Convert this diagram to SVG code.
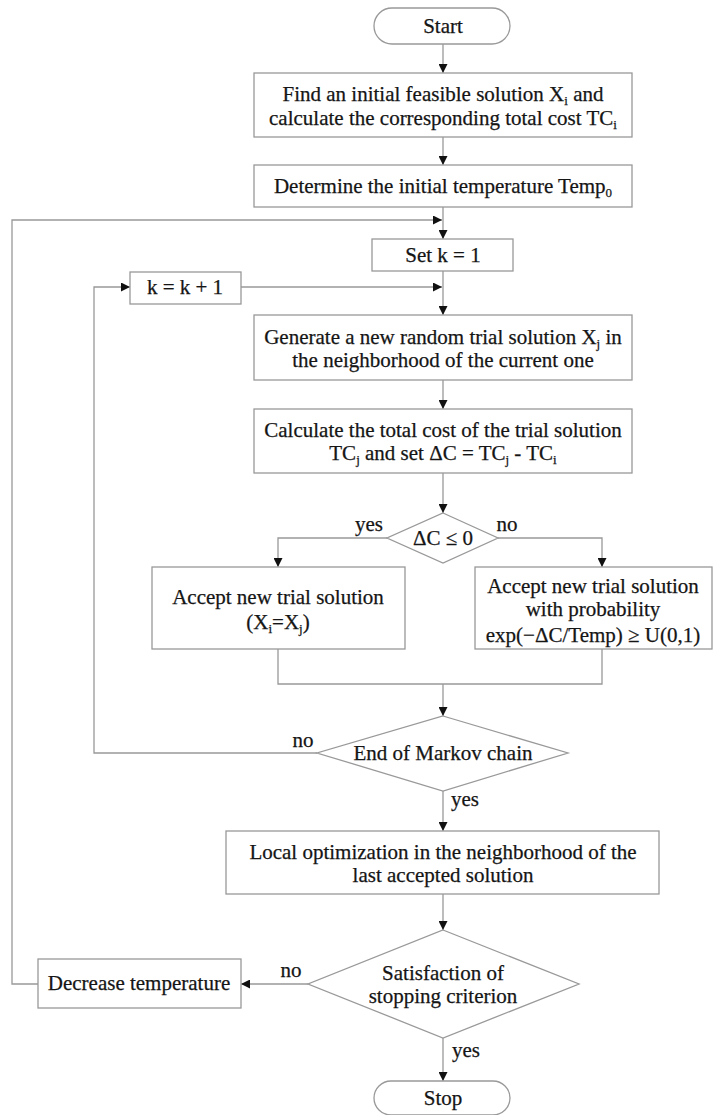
<svg xmlns="http://www.w3.org/2000/svg" width="715" height="1115" viewBox="0 0 715 1115">
  <defs>
    <marker id="arrow" viewBox="0 0 10 10" refX="10" refY="5" markerWidth="9" markerHeight="9" markerUnits="userSpaceOnUse" orient="auto">
      <path d="M0,0 L10,5 L0,10 Z" fill="#111"/>
    </marker>
    <style>
      .box { fill: #fff; stroke: #999; stroke-width: 1.3; }
      .ln { fill: none; stroke: #999; stroke-width: 1.3; }
      .arr { fill: none; stroke: #999; stroke-width: 1.3; marker-end: url(#arrow); }
      text { font-family: "Liberation Serif", "Times New Roman", serif; font-size: 21px; fill: #151515; stroke: #151515; stroke-width: 0.25; text-anchor: middle; }
      .sub { font-size: 13px; }
    </style>
  </defs>

  <!-- connectors -->
  <g id="connectors">
    <line class="arr" x1="443" y1="44" x2="443" y2="73"/>
    <line class="arr" x1="443" y1="137" x2="443" y2="165"/>
    <line class="arr" x1="443" y1="207" x2="443" y2="239"/>
    <line class="arr" x1="443" y1="271" x2="443" y2="315"/>
    <line class="arr" x1="241" y1="287" x2="442" y2="287"/>
    <line class="arr" x1="443" y1="380" x2="443" y2="409"/>
    <line class="arr" x1="443" y1="473" x2="443" y2="513"/>
    <polyline class="arr" points="387,538 278,538 278,567"/>
    <polyline class="arr" points="498,538 602,538 602,567"/>
    <polyline class="ln" points="278,649 278,684 602,684 602,649"/>
    <line class="arr" x1="443" y1="684" x2="443" y2="716"/>
    <polyline class="arr" points="317,753 94,753 94,287 130,287"/>
    <line class="arr" x1="443" y1="791" x2="443" y2="831"/>
    <line class="arr" x1="443" y1="894" x2="443" y2="930"/>
    <line class="arr" x1="308" y1="984" x2="241" y2="984"/>
    <polyline class="arr" points="38,984 12,984 12,220 442,220"/>
    <line class="arr" x1="443" y1="1038" x2="443" y2="1081"/>
  </g>

  <!-- connector labels -->
  <g id="labels">
    <text x="369" y="531">yes</text>
    <text x="507" y="531">no</text>
    <text x="303" y="747">no</text>
    <text x="465" y="806">yes</text>
    <text x="291" y="977">no</text>
    <text x="466" y="1057">yes</text>
  </g>

  <g id="start">
    <rect class="box" x="374" y="8" width="136" height="36" rx="18"/>
    <text x="443" y="33">Start</text>
  </g>

  <g id="init-solution">
    <rect class="box" x="254" y="73" width="378" height="64"/>
    <text x="443" y="101">Find an initial feasible solution X<tspan class="sub" dy="4">i</tspan><tspan dy="-4"> and</tspan></text>
    <text x="443" y="125">calculate the corresponding total cost TC<tspan class="sub" dy="4">i</tspan></text>
  </g>

  <g id="init-temp">
    <rect class="box" x="254" y="165" width="378" height="42"/>
    <text x="443" y="193">Determine the initial temperature Temp<tspan class="sub" dy="4">0</tspan></text>
  </g>

  <g id="set-k">
    <rect class="box" x="372" y="239" width="141" height="32"/>
    <text x="443" y="262">Set k = 1</text>
  </g>

  <g id="inc-k">
    <rect class="box" x="130" y="272" width="111" height="32"/>
    <text x="185" y="294">k = k + 1</text>
  </g>

  <g id="generate">
    <rect class="box" x="254" y="315" width="378" height="65"/>
    <text x="443" y="344">Generate a new random trial solution X<tspan class="sub" dy="4">j</tspan><tspan dy="-4"> in</tspan></text>
    <text x="443" y="367">the neighborhood of the current one</text>
  </g>

  <g id="calc-cost">
    <rect class="box" x="254" y="409" width="378" height="64"/>
    <text x="443" y="437">Calculate the total cost of the trial solution</text>
    <text x="443" y="460">TC<tspan class="sub" dy="4">j</tspan><tspan dy="-4"> and set ΔC = TC</tspan><tspan class="sub" dy="4">j</tspan><tspan dy="-4"> - TC</tspan><tspan class="sub" dy="4">i</tspan></text>
  </g>

  <g id="delta-check">
    <polygon class="box" points="443,513 498,538 443,563 387,538"/>
    <text x="443" y="545">ΔC ≤ 0</text>
  </g>

  <g id="accept">
    <rect class="box" x="152" y="567" width="253" height="82"/>
    <text x="278" y="604">Accept new trial solution</text>
    <text x="278" y="629">(X<tspan class="sub" dy="4">i</tspan><tspan dy="-4">=X</tspan><tspan class="sub" dy="4">j</tspan><tspan dy="-4">)</tspan></text>
  </g>

  <g id="accept-prob">
    <rect class="box" x="475" y="567" width="237" height="82"/>
    <text x="593" y="593">Accept new trial solution</text>
    <text x="593" y="616">with probability</text>
    <text x="593" y="642">exp(−ΔC/Temp) ≥ U(0,1)</text>
  </g>

  <g id="markov-check">
    <polygon class="box" points="443,716 568,753 443,791 317,753"/>
    <text x="443" y="760">End of Markov chain</text>
  </g>

  <g id="local-opt">
    <rect class="box" x="226" y="831" width="433" height="63"/>
    <text x="443" y="859">Local optimization in the neighborhood of the</text>
    <text x="443" y="882">last accepted solution</text>
  </g>

  <g id="stop-check">
    <polygon class="box" points="443,930 579,984 443,1038 308,984"/>
    <text x="443" y="980">Satisfaction of</text>
    <text x="443" y="1003">stopping criterion</text>
  </g>

  <g id="decrease-temp">
    <rect class="box" x="38" y="959" width="203" height="49"/>
    <text x="139" y="990">Decrease temperature</text>
  </g>

  <g id="stop">
    <rect class="box" x="374" y="1081" width="136" height="34" rx="17"/>
    <text x="443" y="1105">Stop</text>
  </g>
</svg>
